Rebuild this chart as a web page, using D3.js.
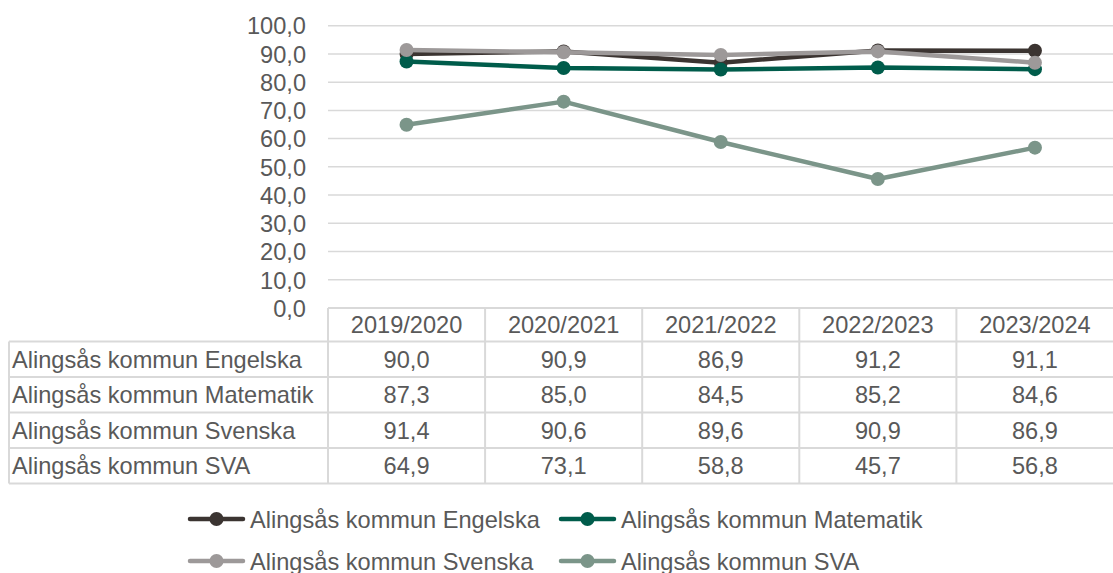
<!DOCTYPE html>
<head>
  <meta charset="utf-8">
  <script src="https://d3js.org/d3.v7.min.js"></script>
  <style>
    body { margin:0; background:#fff; }
    text { font-family: "Liberation Sans", Arial, sans-serif; fill:#595959; }
  </style>
</head>
<body>
<script>
var width = 1113, height = 573;
var fontSize = "23.6px";

var years = ["2019/2020", "2020/2021", "2021/2022", "2022/2023", "2023/2024"];
var seriesNames = ["Alingsås kommun Engelska", "Alingsås kommun Matematik",
                   "Alingsås kommun Svenska", "Alingsås kommun SVA"];
var engelska  = [90.0, 90.9, 86.9, 91.2, 91.1];
var matematik = [87.3, 85.0, 84.5, 85.2, 84.6];
var svenska   = [91.4, 90.6, 89.6, 90.9, 86.9];
var sva       = [64.9, 73.1, 58.8, 45.7, 56.8];
var yTicks = [0, 10, 20, 30, 40, 50, 60, 70, 80, 90, 100];
var colors = ["#3b3431", "#005c4b", "#9d9999", "#7b9589"];

var series = [engelska, matematik, svenska, sva].map(function(v, i) {
  return { name: seriesNames[i], values: v, color: colors[i] };
});

var svg = d3.select("body").append("svg")
  .attr("width", width)
  .attr("height", height);

var x = d3.scaleBand().domain(years).range([328, 1113.5]);
var y = d3.scaleLinear().domain([0, 100]).range([308, 25.7]);
var fmt = function(d) { return d3.format(".1f")(d).replace(".", ","); };

// gridlines
svg.append("g").selectAll("line")
  .data(yTicks.slice(1))
  .enter().append("line")
  .attr("x1", 328).attr("x2", width)
  .attr("y1", function(d) { return y(d); })
  .attr("y2", function(d) { return y(d); })
  .attr("stroke", "#d9d9d9")
  .attr("stroke-width", 1.5);

// y axis
var yAxis = d3.axisLeft(y).tickValues(yTicks).tickSize(0).tickPadding(0).tickFormat(fmt);
var ya = svg.append("g").attr("transform", "translate(306,0)").call(yAxis);
ya.select(".domain").remove();
ya.selectAll("text").style("font-size", fontSize).attr("dy", "0.35em")
  .style("font-family", '"Liberation Sans", Arial, sans-serif').attr("fill", "#595959");

// lines
var line = d3.line()
  .x(function(d, i) { return x(years[i]) + x.bandwidth() / 2; })
  .y(function(d) { return y(d); });

series.forEach(function(s) {
  var g = svg.append("g");
  g.append("path")
    .attr("d", line(s.values))
    .attr("fill", "none")
    .attr("stroke", s.color)
    .attr("stroke-width", 4.5)
    .attr("stroke-linejoin", "round");
  g.selectAll("circle")
    .data(s.values)
    .enter().append("circle")
    .attr("cx", function(d, i) { return x(years[i]) + x.bandwidth() / 2; })
    .attr("cy", function(d) { return y(d); })
    .attr("r", 7)
    .attr("fill", s.color);
});

// data table
var rowTop = [308, 341.5, 377, 412.5, 448, 483.5];
var tbl = svg.append("g");
var border = "#d9d9d9";

// horizontal lines
tbl.selectAll("line.h")
  .data(rowTop)
  .enter().append("line")
  .attr("x1", function(d, i) { return i === 0 ? 328 : 9; })
  .attr("x2", width)
  .attr("y1", function(d) { return d; })
  .attr("y2", function(d) { return d; })
  .attr("stroke", border).attr("stroke-width", 2);

// vertical lines
var vx = [9, 328].concat(years.slice(1).map(function(d) { return x(d); }));
tbl.selectAll("line.v")
  .data(vx)
  .enter().append("line")
  .attr("x1", function(d) { return d; })
  .attr("x2", function(d) { return d; })
  .attr("y1", function(d, i) { return i === 0 ? rowTop[1] : rowTop[0]; })
  .attr("y2", rowTop[5])
  .attr("stroke", border).attr("stroke-width", 2);

// header
tbl.selectAll("text.yr")
  .data(years)
  .enter().append("text")
  .attr("x", function(d) { return x(d) + x.bandwidth() / 2; })
  .attr("y", (rowTop[0] + rowTop[1]) / 2)
  .attr("dy", "0.36em")
  .attr("text-anchor", "middle")
  .style("font-size", fontSize)
  .text(function(d) { return d; });

series.forEach(function(s, r) {
  var cy = (rowTop[r + 1] + rowTop[r + 2]) / 2;
  tbl.append("text")
    .attr("x", 12).attr("y", cy).attr("dy", "0.36em")
    .style("font-size", fontSize)
    .text(s.name);
  tbl.selectAll(null)
    .data(s.values)
    .enter().append("text")
    .attr("x", function(d, i) { return x(years[i]) + x.bandwidth() / 2; })
    .attr("y", cy).attr("dy", "0.36em")
    .attr("text-anchor", "middle")
    .style("font-size", fontSize)
    .text(fmt);
});

// legend
var legPos = [[190, 519], [561, 519], [190, 561], [561, 561]];
var leg = svg.append("g");
series.forEach(function(s, i) {
  var p = legPos[i];
  var g = leg.append("g").attr("transform", "translate(" + p[0] + "," + p[1] + ")");
  g.append("line").attr("x1", 0).attr("x2", 53).attr("y1", 0).attr("y2", 0)
    .attr("stroke", s.color).attr("stroke-width", 4.5).attr("stroke-linecap", "round");
  g.append("circle").attr("cx", 26.5).attr("cy", 0).attr("r", 7).attr("fill", s.color);
  g.append("text").attr("x", 60).attr("y", 0).attr("dy", "0.36em")
    .style("font-size", fontSize)
    .text(s.name);
});
</script>
</body>
